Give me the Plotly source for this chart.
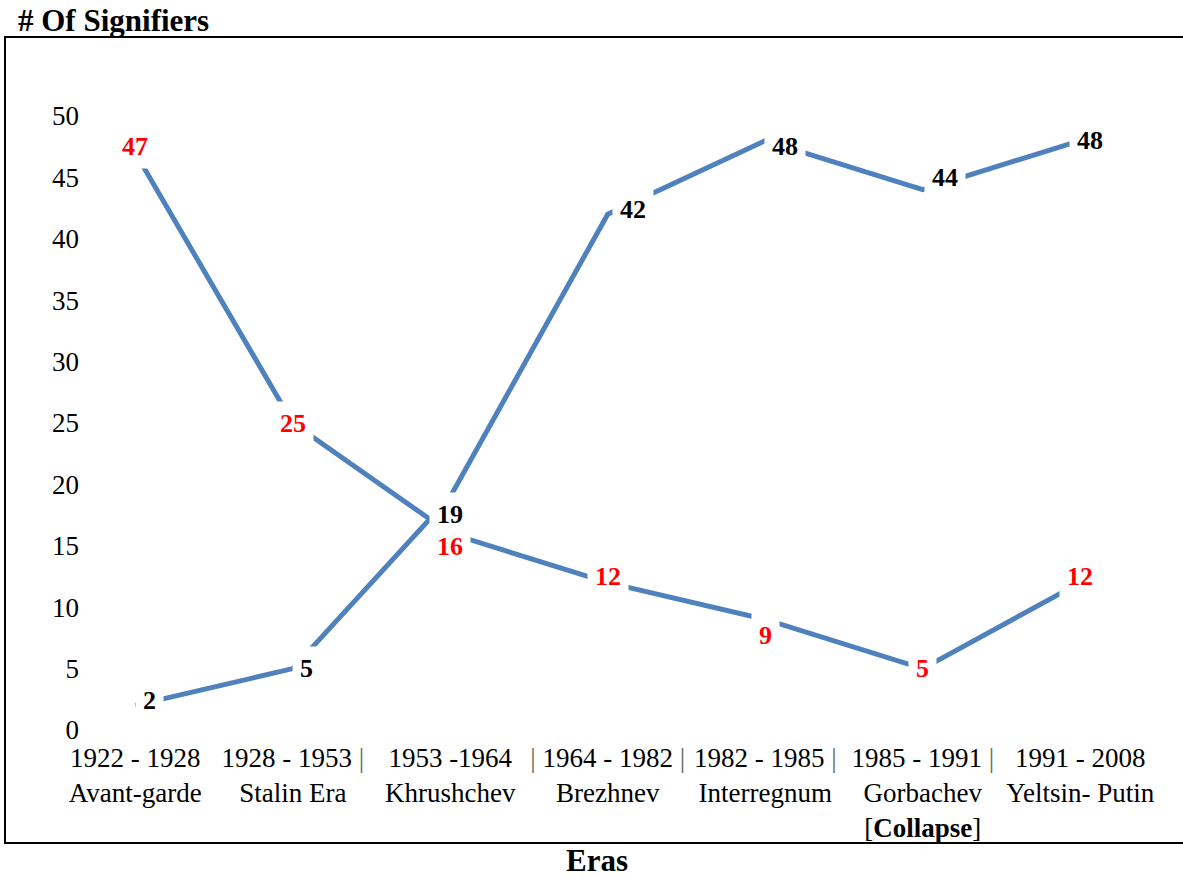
import plotly.graph_objects as go

eras = ["1922 - 1928<br>Avant-garde",
        "1928 - 1953 <span style='color:#666'>|</span><br>Stalin Era",
        "1953 -1964<br>Khrushchev",
        "<span style='color:#666'>|</span> 1964 - 1982 <span style='color:#666'>|</span><br>Brezhnev",
        "1982 - 1985 <span style='color:#666'>|</span><br>Interregnum",
        "1985 - 1991 <span style='color:#666'>|</span><br>Gorbachev<br>[<b>Collapse</b>]",
        "1991 - 2008<br>Yeltsin- Putin"]
series_red = [47, 25, 16, 12, 9, 5, 12]
series_black = [2, 5, 19, 42, 48, 44, 48]
red_label_shift = [6, 0, -13, 6, -16, 0, 6]
black_label_shift = [5, 0, -18, 5, -6, 12, 0]
black_label_xshift = [14, 14, 0, 25, 20, 22, 10]

x = list(range(len(eras)))
FONT = "Liberation Serif, Times New Roman, serif"
BLUE = "#4F81BD"

fig = go.Figure()
for ys in (series_red, series_black):
    fig.add_trace(go.Scatter(x=x, y=ys, mode="lines",
                             line=dict(color=BLUE, width=5),
                             showlegend=False, hoverinfo="skip"))

ann = []
for i, v in enumerate(series_red):
    ann.append(dict(x=x[i], y=v, xref="x", yref="y", text=f"<b>{v}</b>",
                    showarrow=False, font=dict(family=FONT, size=26, color="#FF0000"),
                    bgcolor="white", borderpad=7, yshift=red_label_shift[i]))
for i, v in enumerate(series_black):
    ann.append(dict(x=x[i], y=v, xref="x", yref="y", text=f"<b>{v}</b>",
                    showarrow=False, font=dict(family=FONT, size=26, color="black"),
                    bgcolor="white", borderpad=7, yshift=black_label_shift[i],
                    xshift=black_label_xshift[i]))

L, R, T, B = 88, 24, 116, 148
W, H = 1183, 878
pw, ph = W - L - R, H - T - B
ann.append(dict(xref="paper", yref="paper", x=(597 - L) / pw, y=(H - B - 860) / ph,
                text="<b>Eras</b>", showarrow=False,
                font=dict(family=FONT, size=31, color="black"),
                xanchor="center", yanchor="middle"))

fig.add_shape(type="rect", xref="paper", yref="paper",
              x0=(5 - L) / pw, x1=(1195 - L) / pw,
              y0=(H - B - 843) / ph, y1=(H - B - 37) / ph,
              line=dict(color="black", width=2), fillcolor="rgba(0,0,0,0)", layer="below")

fig.update_layout(
    width=W, height=H,
    margin=dict(l=L, r=R, t=T, b=B),
    paper_bgcolor="white", plot_bgcolor="white",
    title=dict(text="<b># Of Signifiers</b>", x=18 / W, xanchor="left", xref="container",
               y=1 - 20 / H, yanchor="middle", yref="container",
               font=dict(family=FONT, size=31, color="black")),
    annotations=ann,
    xaxis=dict(tickmode="array", tickvals=x, ticktext=eras, range=[-0.3, 6.5],
               showgrid=False, zeroline=False, showline=False, ticks="",
               tickfont=dict(family=FONT, size=27, color="black"), ticklabelstandoff=9),
    yaxis=dict(range=[0, 50], dtick=5, tick0=0, showgrid=False, zeroline=False,
               showline=False, ticks="",
               tickfont=dict(family=FONT, size=27, color="black"), ticklabelstandoff=8),
)

fig.write_html("out.html", config={"displayModeBar": False},
               post_script="document.body.style.margin='0';document.body.style.padding='0';document.body.style.overflow='hidden';")
